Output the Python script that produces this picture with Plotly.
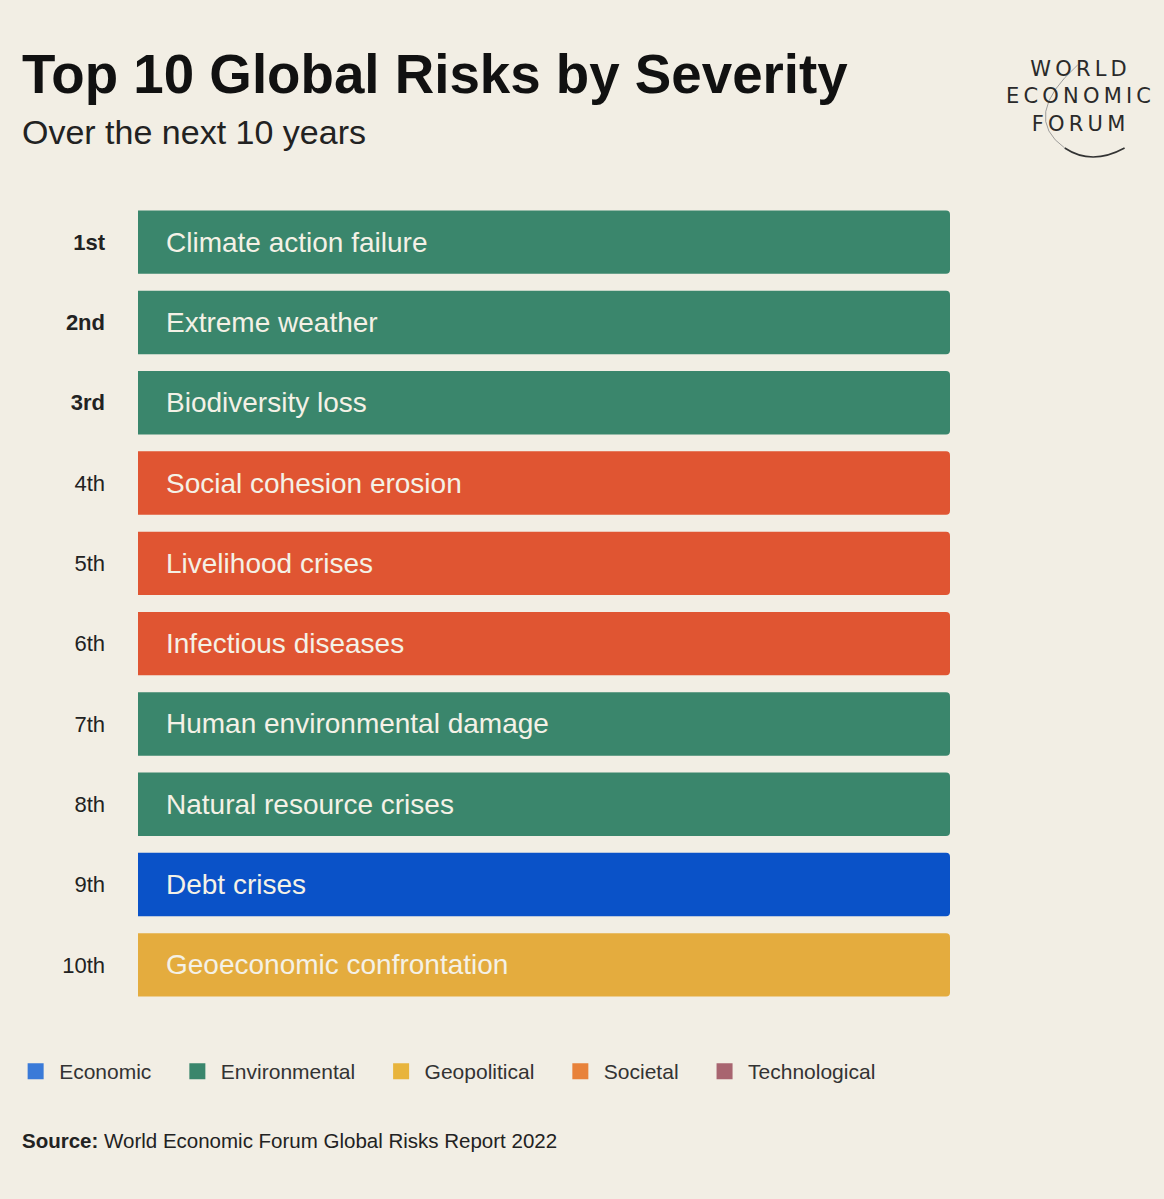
import plotly.graph_objects as go

# data
ranks = ["1st", "2nd", "3rd", "4th", "5th", "6th", "7th", "8th", "9th", "10th"]
risks = ["Climate action failure", "Extreme weather", "Biodiversity loss",
         "Social cohesion erosion", "Livelihood crises", "Infectious diseases",
         "Human environmental damage", "Natural resource crises", "Debt crises",
         "Geoeconomic confrontation"]
risk_category = ["Environmental", "Environmental", "Environmental",
                 "Societal", "Societal", "Societal",
                 "Environmental", "Environmental", "Economic", "Geopolitical"]
bar_length = [1, 1, 1, 1, 1, 1, 1, 1, 1, 1]
categories = ["Economic", "Environmental", "Geopolitical", "Societal", "Technological"]

# styles
bar_colors = {"Economic": "#0a52c8", "Environmental": "#3a866c", "Geopolitical": "#e4ac3e",
              "Societal": "#e05532", "Technological": "#a86570"}
legend_colors = {"Economic": "#3a7ad8", "Environmental": "#3a866c", "Geopolitical": "#e8b43c",
                 "Societal": "#e8823a", "Technological": "#a86570"}
bg = "#f2eee4"
font = "Liberation Sans, Arial, sans-serif"

# tick labels: first three in bold
tick_text = [f"<b>{r}</b>" if i < 3 else r for i, r in enumerate(ranks)]

fig = go.Figure()
fig.add_trace(go.Bar(
    x=bar_length, y=ranks, orientation="h",
    marker=dict(color=[bar_colors[c] for c in risk_category], line=dict(width=0)),
    width=0.79, showlegend=False, hoverinfo="skip",
))

# legend entries (trailing spaces widen the gap between items)
for c in categories:
    fig.add_trace(go.Scatter(
        x=[None], y=[None], mode="markers", name=c + "\u00a0" * 3,
        marker=dict(symbol="square", size=17, color=legend_colors[c]),
    ))

# labels inside the bars
for r, name in zip(ranks, risks):
    fig.add_annotation(x=0, y=r, xref="x", yref="y", text=name, showarrow=False,
                       xanchor="left", xshift=26,
                       font=dict(family=font, size=28, color="#f4f1e6"))

# title, subtitle, source
fig.add_annotation(x=-0.145, y=1.159, xref="paper", yref="paper", xanchor="left", yanchor="middle",
                   text="<b>Top 10 Global Risks by Severity</b>", showarrow=False,
                   font=dict(family=font, size=54.7, color="#111111"))
fig.add_annotation(x=-0.145, y=1.087, xref="paper", yref="paper", xanchor="left", yanchor="middle",
                   text="Over the next 10 years", showarrow=False,
                   font=dict(family=font, size=34, color="#222222"))
fig.add_annotation(x=-0.145, y=-0.169, xref="paper", yref="paper", xanchor="left", yanchor="middle",
                   text="<b>Source:</b> World Economic Forum Global Risks Report 2022", showarrow=False,
                   font=dict(family=font, size=20.5, color="#222222"))

# logo
sp = "\u2009"
logo = "<br>".join(sp.join(w) for w in ["WORLD", "ECONOMIC", "FORUM"])
fig.add_annotation(x=1.1585, y=1.131, xref="paper", yref="paper", xanchor="center", yanchor="middle",
                   text=logo, showarrow=False, align="center",
                   font=dict(family="DejaVu Sans, sans-serif", size=21, color="#2a2a2a"))
fig.add_shape(type="path", xref="paper", yref="paper",
              path="M 1.1413 1.0672 Q 1.1744 1.0448 1.215 1.0672",
              line=dict(color="#333333", width=1.6))
fig.add_shape(type="path", xref="paper", yref="paper",
              path="M 1.1572 1.1706 Q 1.0866 1.1065 1.1413 1.0672",
              line=dict(color="#888888", width=0.8))

fig.update_layout(
    width=1164, height=1199,
    paper_bgcolor=bg, plot_bgcolor=bg,
    margin=dict(l=136, r=214, t=202, b=194),
    barcornerradius=4,
    font=dict(family=font, color="#222222"),
    xaxis=dict(range=[0, 1], visible=False, fixedrange=True),
    yaxis=dict(autorange="reversed", tickvals=ranks, ticktext=tick_text,
               tickfont=dict(family=font, size=22, color="#222222"),
               ticks="", showgrid=False, zeroline=False, showline=False,
               ticklabelstandoff=32, fixedrange=True),
    legend=dict(orientation="h", x=-0.155, y=-0.0828, xanchor="left", yanchor="middle",
                font=dict(family=font, size=21, color="#333333"),
                bgcolor="rgba(0,0,0,0)", itemclick=False, itemdoubleclick=False,
                itemwidth=37, tracegroupgap=0),
    showlegend=True,
)

fig.write_html("out.html", config={"displayModeBar": False},
               post_script="document.body.style.margin='0';document.body.style.background='%s';" % bg)
